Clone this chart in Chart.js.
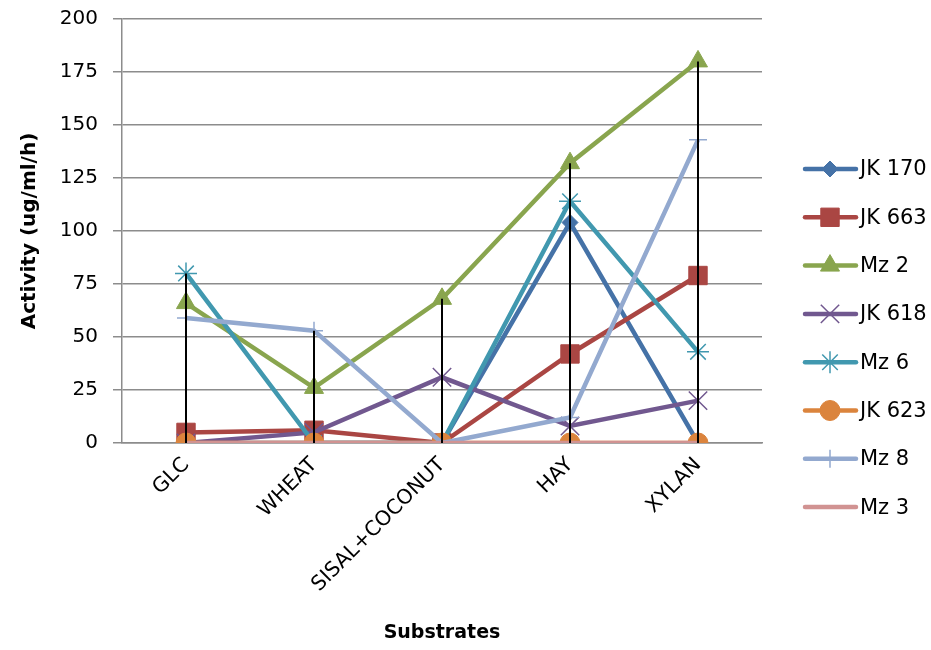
<!DOCTYPE html>
<html>
<head>
<meta charset="utf-8">
<script src="https://cdn.jsdelivr.net/npm/chart.js@4/dist/chart.umd.min.js"></script>
<style>
html,body{margin:0;padding:0;background:#fff}
#wrap{width:931px;height:650px}
</style>
</head>
<body>
<div id="wrap"><canvas id="chart" width="931" height="650"></canvas></div>
<script>
const substrates = ["GLC","WHEAT","SISAL+COCONUT","HAY","XYLAN"]
const seriesNames = ["JK 170","JK 663","Mz 2","JK 618","Mz 6","JK 623","Mz 8","Mz 3"]
const jk170 = [0,0,0,104,0]
const jk663 = [5,6,0,42,79]
const mz2 = [66,26,68,132,180]
const jk618 = [0,5,31,8,20]
const mz6 = [80,0,0,114,43]
const jk623 = [0,0,0,0,0]
const mz8 = [59,53,0,12,143]
const mz3 = [0,0,0,0,0]
const yTicks = [0,25,50,75,100,125,150,175,200]

const FONT = "'DejaVu Sans', sans-serif"

// marker look for each series (Excel 2007 defaults)
const looks = [
{color:"#4572A7",style:"rectRot",r:8,bw:1},
{color:"#AA4643",style:"rect",r:13,bw:1},
{color:"#89A54E",style:"triangle",r:11,bw:1},
{color:"#71588F",style:"crossRot",r:13,bw:1.5},
{color:"#4198AF",style:"star",r:11,bw:1.5},
{color:"#DB843D",style:"circle",r:10,bw:1},
{color:"#93A9CF",style:"cross",r:9,bw:1.5},
{color:"#D19392",style:"circle",r:0,bw:0}
]

const allValues = [jk170,jk663,mz2,jk618,mz6,jk623,mz8,mz3]

let datasets = allValues.map((vals,i)=>({
label:seriesNames[i],
data:vals,
borderColor:looks[i].color,
backgroundColor:looks[i].color,
borderWidth:4.5,
pointStyle:looks[i].style,
pointRadius:looks[i].r,
pointHoverRadius:looks[i].r,
pointBorderWidth:looks[i].bw,
pointBorderColor:looks[i].color,
pointBackgroundColor:looks[i].color,
tension:0,
order:allValues.length-i
}))

// black high-low lines on top of the series
const hiLow = {
id:"hiLow",
afterDatasetsDraw(c){
let ctx=c.ctx
let x=c.scales.x, y=c.scales.y
ctx.save()
ctx.strokeStyle="#000"
ctx.lineWidth=2
substrates.forEach((s,j)=>{
let vals=c.data.datasets.map(d=>d.data[j])
let px=x.getPixelForValue(j)
ctx.beginPath()
ctx.moveTo(px,y.getPixelForValue(Math.min(...vals)))
ctx.lineTo(px,y.getPixelForValue(Math.max(...vals)))
ctx.stroke()
})
ctx.restore()
}
}

// legend with line + marker, like Excel
const sideLegend = {
id:"sideLegend",
afterDraw(c){
let ctx=c.ctx
ctx.save()
c.data.datasets.forEach((d,i)=>{
let yy=169+i*48.3
ctx.strokeStyle=d.borderColor
ctx.lineWidth=4.5
ctx.lineCap="round"
ctx.beginPath()
ctx.moveTo(805,yy)
ctx.lineTo(856,yy)
ctx.stroke()
if(d.pointRadius>0){
ctx.lineCap="butt"
ctx.fillStyle=d.pointBackgroundColor
ctx.strokeStyle=d.pointBorderColor
ctx.lineWidth=d.pointBorderWidth
Chart.helpers.drawPoint(ctx,{pointStyle:d.pointStyle,radius:d.pointRadius,borderWidth:d.pointBorderWidth,rotation:0},830,yy)
}
ctx.fillStyle="#000"
ctx.font="21px "+FONT
ctx.textBaseline="middle"
ctx.textAlign="left"
ctx.fillText(d.label,860,yy+1)
})
ctx.restore()
}
}

new Chart(document.getElementById("chart"),{
type:"line",
data:{labels:substrates,datasets:datasets},
plugins:[hiLow,sideLegend],
options:{
responsive:false,
animation:false,
layout:{padding:{top:19,right:169,left:0,bottom:0}},
plugins:{legend:{display:false},tooltip:{enabled:false}},
scales:{
x:{
offset:true,
afterFit(s){s.height=207;s.paddingLeft=0;s.paddingRight=0},
grid:{display:false,drawTicks:false},
border:{color:"#8c8c8c",width:1.5},
ticks:{color:"#000",font:{family:FONT,size:20.5},minRotation:45,maxRotation:45,padding:10,autoSkip:false},
title:{display:true,text:"Substrates",color:"#000",font:{family:FONT,size:19,weight:"bold"},padding:{top:4,bottom:6}}
},
y:{
min:0,max:200,
afterFit(s){s.width=122;s.paddingTop=0;s.paddingBottom=0},
afterBuildTicks(s){s.ticks=yTicks.map(v=>({value:v}))},
grid:{color:"#8c8c8c",lineWidth:1.5,tickLength:9,tickColor:"#8c8c8c"},
border:{color:"#8c8c8c",width:1.5},
ticks:{color:"#000",font:{family:FONT,size:20},padding:15},
title:{display:true,text:"Activity (ug/ml/h)",color:"#000",font:{family:FONT,size:20,weight:"bold"},padding:{top:18,bottom:4}}
}
}
}
})
</script>
</body>
</html>
